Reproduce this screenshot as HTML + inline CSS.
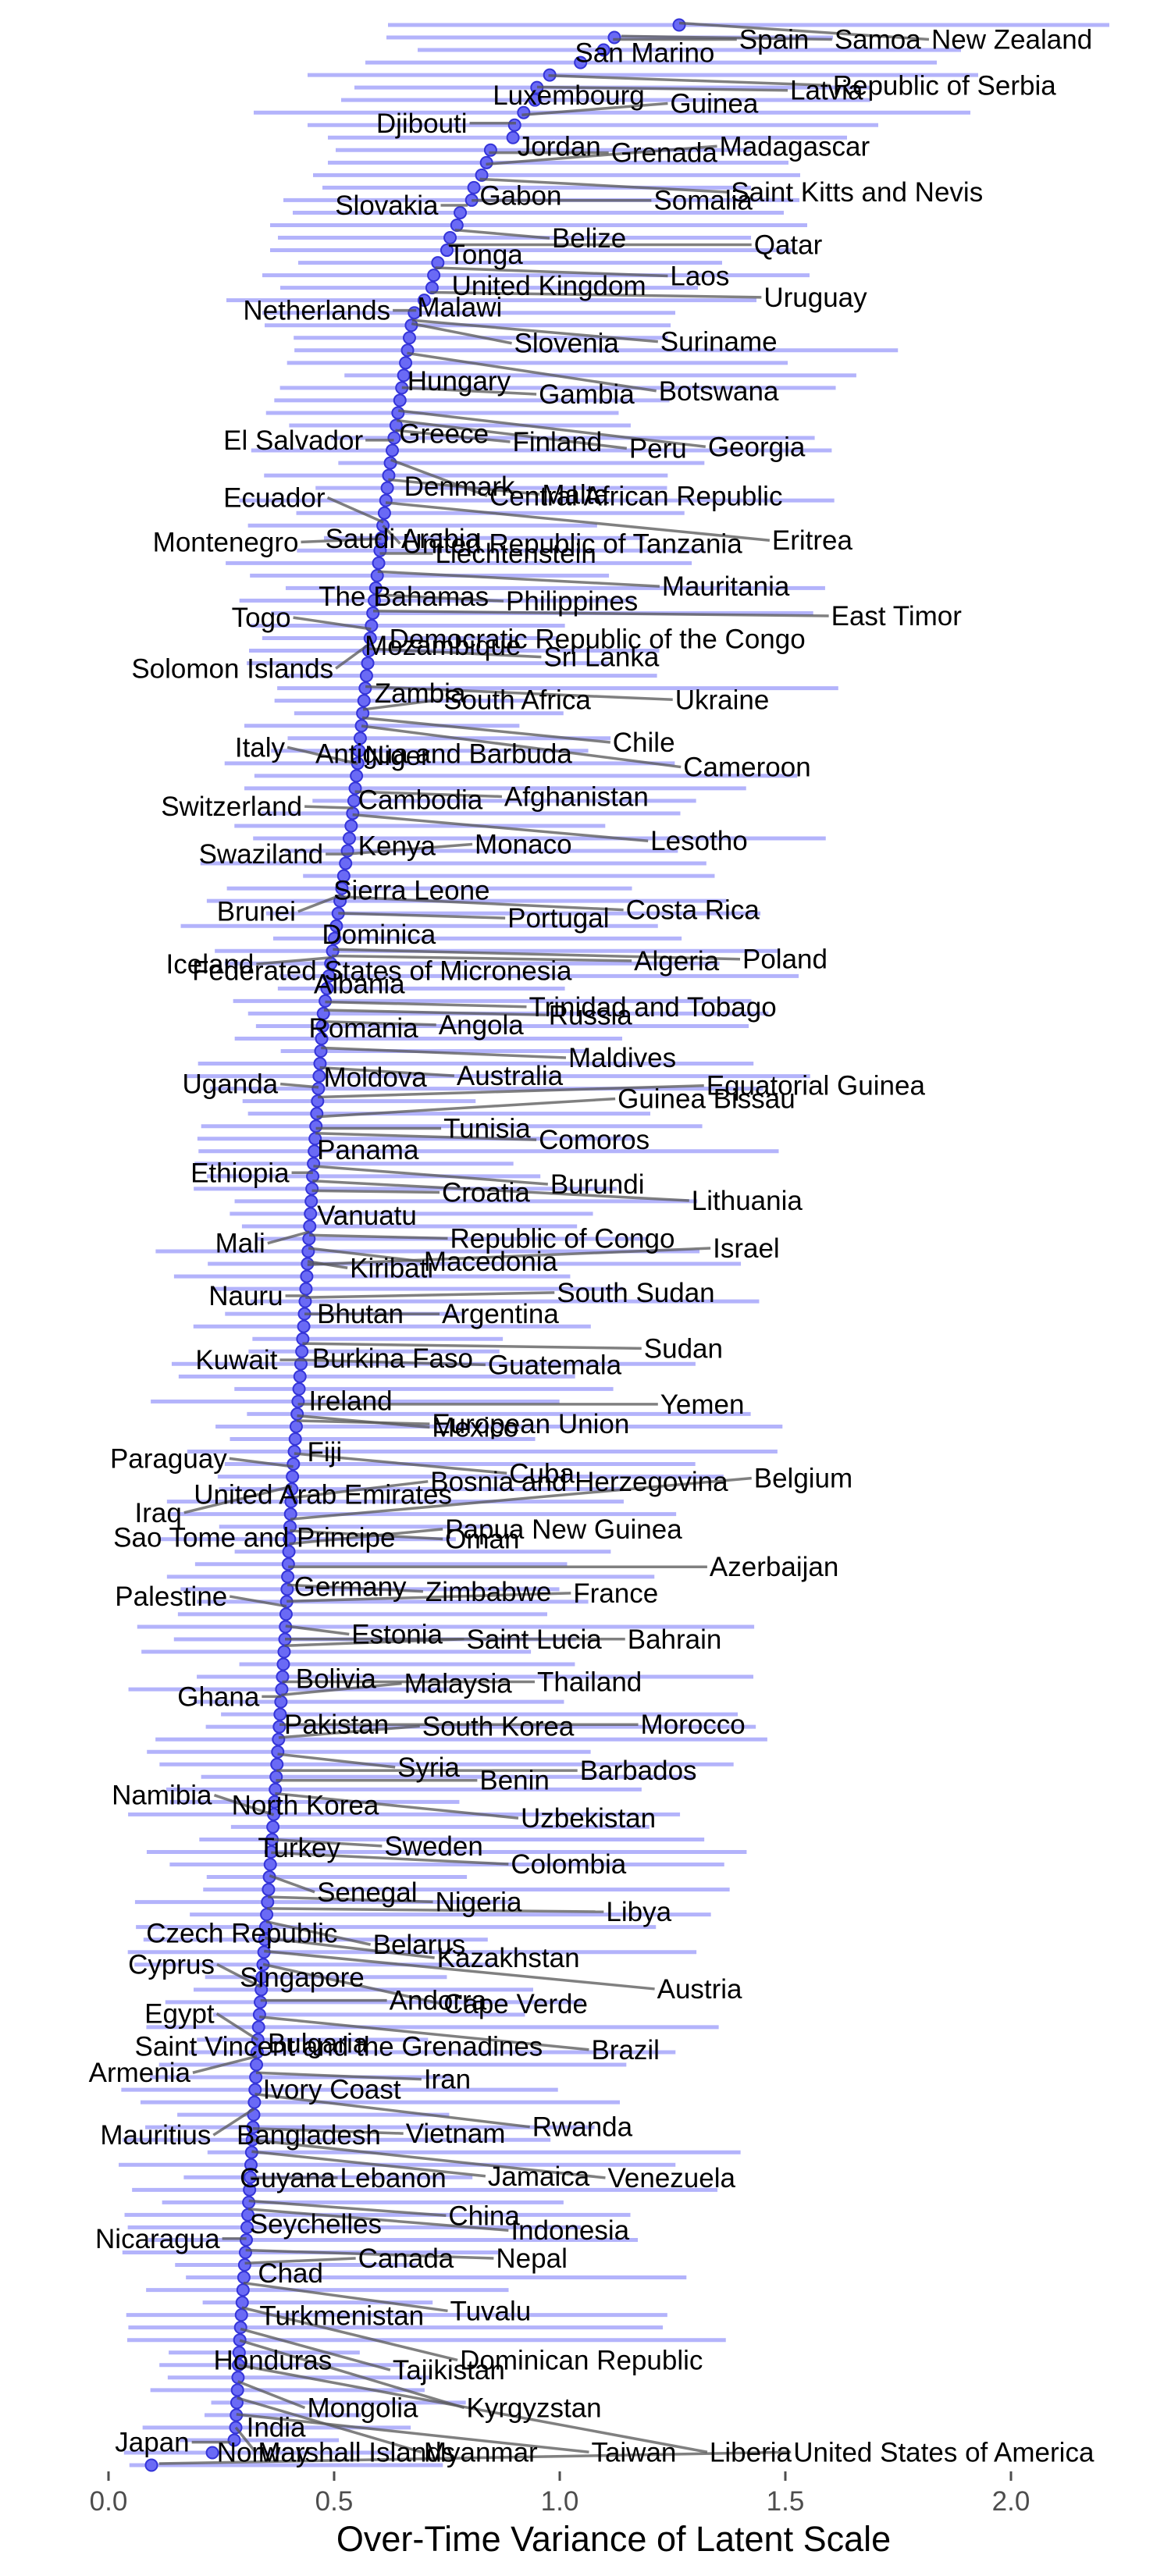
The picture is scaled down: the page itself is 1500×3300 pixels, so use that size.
<!DOCTYPE html>
<html><head><meta charset="utf-8"><style>
html,body{margin:0;padding:0;background:#fff;}
svg{display:block;}
text{font-family:"Liberation Sans",Arial,sans-serif;}
</style></head><body>
<svg id="s" width="1500" height="3300" viewBox="0 0 1500 3300" xmlns="http://www.w3.org/2000/svg">
<rect width="1500" height="3300" fill="#fff"/>
<g id="bars"></g><g id="dots"></g><g id="lead"></g>
<g id="labs" font-size="35" fill="#000">
<text x="0" y="0">Spain</text>
<text>Samoa</text><text>New Zealand</text><text>San Marino</text><text>Republic of Serbia</text><text>Latvia</text>
<text>Luxembourg</text><text>Guinea</text><text>Djibouti</text><text>Jordan</text><text>Grenada</text><text>Madagascar</text>
<text>Saint Kitts and Nevis</text><text>Gabon</text><text>Somalia</text><text>Slovakia</text><text>Belize</text><text>Qatar</text><text>Tonga</text>
<text>Laos</text><text>United Kingdom</text><text>Uruguay</text><text>Netherlands</text><text>Malawi</text><text>Suriname</text><text>Slovenia</text>
<text>Hungary</text><text>Gambia</text><text>Botswana</text><text>El Salvador</text><text>Greece</text><text>Finland</text><text>Peru</text><text>Georgia</text>
<text>Denmark</text><text>Central African Republic</text><text>Malta</text><text>Ecuador</text><text>Montenegro</text><text>Saudi Arabia</text>
<text>United Republic of Tanzania</text><text>Eritrea</text><text>Liechtenstein</text><text>Mauritania</text><text>The Bahamas</text><text>Philippines</text>
<text>Togo</text><text>East Timor</text><text>Democratic Republic of the Congo</text><text>Mozambique</text><text>Sri Lanka</text><text>Solomon Islands</text>
<text>Zambia</text><text>South Africa</text><text>Ukraine</text><text>Chile</text><text>Italy</text><text>Antigua and Barbuda</text><text>Niger</text><text>Cameroon</text>
<text>Afghanistan</text><text>Switzerland</text><text>Cambodia</text><text>Lesotho</text><text>Kenya</text><text>Monaco</text><text>Swaziland</text>
<text>Sierra Leone</text><text>Costa Rica</text><text>Brunei</text><text>Portugal</text><text>Dominica</text><text>Poland</text><text>Iceland</text><text>Algeria</text>
<text>Federated States of Micronesia</text><text>Albania</text><text>Trinidad and Tobago</text><text>Russia</text><text>Romania</text><text>Angola</text>
<text>Maldives</text><text>Uganda</text><text>Moldova</text><text>Australia</text><text>Equatorial Guinea</text><text>Guinea Bissau</text>
<text>Tunisia</text><text>Comoros</text><text>Panama</text><text>Ethiopia</text><text>Burundi</text><text>Croatia</text><text>Lithuania</text>
<text>Vanuatu</text><text>Republic of Congo</text><text>Mali</text><text>Israel</text><text>Macedonia</text><text>Kiribati</text>
<text>South Sudan</text><text>Nauru</text><text>Bhutan</text><text>Argentina</text><text>Sudan</text><text>Kuwait</text><text>Burkina Faso</text><text>Guatemala</text>
<text>Ireland</text><text>Yemen</text><text>European Union</text><text>Mexico</text><text>Fiji</text><text>Paraguay</text><text>Cuba</text><text>Belgium</text>
<text>Bosnia and Herzegovina</text><text>United Arab Emirates</text><text>Iraq</text><text>Papua New Guinea</text><text>Sao Tome and Principe</text><text>Oman</text>
<text>Azerbaijan</text><text>Germany</text><text>Zimbabwe</text><text>France</text><text>Palestine</text><text>Estonia</text><text>Saint Lucia</text><text>Bahrain</text>
<text>Bolivia</text><text>Malaysia</text><text>Thailand</text><text>Ghana</text><text>Pakistan</text><text>South Korea</text><text>Morocco</text>
<text>Syria</text><text>Barbados</text><text>Benin</text><text>Namibia</text><text>North Korea</text><text>Uzbekistan</text><text>Turkey</text><text>Sweden</text><text>Colombia</text>
<text>Senegal</text><text>Nigeria</text><text>Libya</text><text>Czech Republic</text><text>Belarus</text><text>Kazakhstan</text><text>Cyprus</text><text>Singapore</text><text>Austria</text>
<text>Andorra</text><text>Cape Verde</text><text>Egypt</text><text>Saint Vincent and the Grenadines</text><text>Bulgaria</text><text>Brazil</text>
<text>Armenia</text><text>Iran</text><text>Ivory Coast</text><text>Mauritius</text><text>Bangladesh</text><text>Vietnam</text><text>Rwanda</text>
<text>Guyana</text><text>Lebanon</text><text>Jamaica</text><text>Venezuela</text><text>China</text><text>Seychelles</text><text>Indonesia</text>
<text>Nicaragua</text><text>Canada</text><text>Nepal</text><text>Chad</text><text>Tuvalu</text><text>Turkmenistan</text>
<text>Dominican Republic</text><text>Honduras</text><text>Tajikistan</text><text>Mongolia</text><text>Kyrgyzstan</text><text>India</text><text>Japan</text>
<text>Norway</text><text>Marshall Islands</text><text>Myanmar</text><text>Taiwan</text><text>Liberia</text><text>United States of America</text>
</g>
<g stroke="#4d4d4d" stroke-width="3">
<line x1="139" y1="3166" x2="139" y2="3178"/><line x1="428" y1="3166" x2="428" y2="3178"/><line x1="717" y1="3166" x2="717" y2="3178"/><line x1="1006" y1="3166" x2="1006" y2="3178"/><line x1="1295" y1="3166" x2="1295" y2="3178"/>
</g>
<g font-size="35" fill="#4d4d4d" text-anchor="middle">
<text x="139" y="3216">0.0</text><text x="428" y="3216">0.5</text><text x="717" y="3216">1.0</text><text x="1006" y="3216">1.5</text><text x="1295" y="3216">2.0</text>
</g>
<text x="786" y="3268" font-size="45" text-anchor="middle" fill="#000">Over-Time Variance of Latent Scale</text>
</svg>
<script>
(function(){
var NS="http://www.w3.org/2000/svg";
var K=2.104;
var A=[[32,870],[48,787],[62,777],[81,742],[97,702],[111,688],[130,685],[145,670],[162,658],[178,657],[193,627],[209,623],[227,616],[242,606],[258,604],[275,587],[291,585],[307,575],[323,572],[340,558],[356,555],[372,553],[388,541],[403,529],[600,499],[800,476],[1050,451],[1300,414],[1500,401],[1700,389],[1900,374],[2100,365],[2350,349],[2600,331],[2800,320],[3000,307],[3110,302],[3126,300],[3142,272],[3158,194]];
function cx(y){if(y<=A[0][0])return A[0][1];for(var i=1;i<A.length;i++){if(y<=A[i][0]){var a=A[i-1],b=A[i];return a[1]+(b[1]-a[1])*(y-a[0])/(b[0]-a[0]);}}return A[A.length-1][1];}
var top=[[497,1421],[495,1067],[535,1231],[468,1200],[394,1253],[454,1115],[437,1115],[325,1243],[394,1125],[420,1085],[430,962],[420,1010],[401,1025],[413,962],[363,1024],[375,1004],[346,1034],[356,962],[346,1016],[382,925],[336,1037],[359,894],[290,969],[336,865],[339,859]];
var seed=12345;function rnd(){seed=(seed*1103515245+12345)%2147483648;return seed/2147483648;}
var N=196,bars=document.getElementById('bars'),dots=document.getElementById('dots');
var rows=[];
for(var i=0;i<N;i++){var y=32+i*(3158-32)/(N-1);var x=cx(y);rows.push([x,y]);
var l,r;if(i<top.length){l=top[i][0];r=top[i][1];}else{var f=i>185?0.6:1;l=x-(50+rnd()*150)*f;r=x+(200+rnd()*430)*f;if(l<150)l=150+rnd()*20;}
var ln=document.createElementNS(NS,'line');ln.setAttribute('x1',l);ln.setAttribute('x2',r);ln.setAttribute('y1',y);ln.setAttribute('y2',y);ln.setAttribute('stroke','#b3b3fb');ln.setAttribute('stroke-width','5');bars.appendChild(ln);}
rows.forEach(function(p){var c=document.createElementNS(NS,'circle');c.setAttribute('cx',p[0]);c.setAttribute('cy',p[1]);c.setAttribute('r','7.5');c.setAttribute('fill','#6a6af5');c.setAttribute('stroke','#3434d8');c.setAttribute('stroke-width','2');dots.appendChild(c);});
var L=[["Spain",450,24],["Samoa",508,24,22],["New Zealand",567,24,14],["San Marino",350,32],["Republic of Serbia",507,52,46],["Latvia",481,55,53],
["Luxembourg",300,58],["Guinea",408,63,70],["Djibouti",229,75],["Jordan",315,89],["Grenada",372,93],["Madagascar",438,89,100],
["Saint Kitts and Nevis",445,117,109],["Gabon",292,119],["Somalia",398,122],["Slovakia",204,125],["Belize",336,145,140],["Qatar",459,149],["Tonga",273,155],
["Laos",408,168,163],["United Kingdom",275,174],["Uruguay",465,181,178],["Netherlands",148,189],["Malawi",254,187],["Suriname",402,208,195],["Slovenia",313,209,197],
["Hungary",248,232],["Gambia",328,240,236],["Botswana",401,238,215],["El Salvador",136,268],["Greece",243,264],["Finland",312,269,262],["Peru",383,273,256],["Georgia",431,272,250],
["Denmark",246,296],["Central African Republic",298,302,280],["Malta",330,301,292],["Ecuador",136,303,318],["Montenegro",93,330,328],["Saudi Arabia",198,328],
["United Republic of Tanzania",245,331,320],["Eritrea",470,329,306],["Liechtenstein",265,337],["Mauritania",403,357,348],["The Bahamas",194,363],["Philippines",308,366,362],
["Togo",141,376,383],["East Timor",506,375,372],["Democratic Republic of the Congo",237,389],["Mozambique",222,393],["Sri Lanka",331,400,395],["Solomon Islands",80,407,392],
["Zambia",228,422],["South Africa",270,426,432],["Ukraine",411,426,418],["Chile",373,452,437],["Italy",143,455,465],["Antigua and Barbuda",192,459],["Niger",222,460],["Cameroon",416,467,442],
["Afghanistan",307,485,482],["Switzerland",98,491,492],["Cambodia",218,487],["Lesotho",396,512,496],["Kenya",218,515],["Monaco",289,514,520],["Swaziland",121,520],
["Sierra Leone",203,542],["Costa Rica",381,554,546],["Brunei",132,555,545],["Portugal",309,559,556],["Dominica",196,569],["Poland",452,584,578],["Iceland",101,587,583],["Algeria",386,585,582],
["Federated States of Micronesia",117,591],["Albania",191,599],["Trinidad and Tobago",322,613,610],["Russia",334,618,615],["Romania",188,626],["Angola",267,624,622],
["Maldives",346,644,638],["Uganda",111,660,662],["Moldova",197,656],["Australia",278,655,650],["Equatorial Guinea",430,661,668],["Guinea Bissau",376,669,680],
["Tunisia",270,687],["Comoros",328,694,690],["Panama",193,700],["Ethiopia",116,714],["Burundi",335,721,710],["Croatia",269,726,725],["Lithuania",421,731,719],
["Vanuatu",193,740],["Republic of Congo",274,754,752],["Mali",131,757,750],["Israel",434,760,770],["Macedonia",258,768,760],["Kiribati",213,772,768],
["South Sudan",339,787,790],["Nauru",127,789],["Bhutan",193,800],["Argentina",269,800,800],["Sudan",392,821,818],["Kuwait",119,828],["Burkina Faso",190,827],["Guatemala",297,831,828],
["Ireland",188,853],["Yemen",402,855,855],["European Union",263,867,865],["Mexico",263,869,862],["Fiji",187,884],["Paraguay",67,888,893],["Cuba",310,897,885],["Belgium",459,900,925],
["Bosnia and Herzegovina",262,902,912],["United Arab Emirates",118,910],["Iraq",82,921,905],["Papua New Guinea",271,931,940],["Sao Tome and Principe",69,936],["Oman",271,937,932],
["Azerbaijan",432,954,954],["Germany",179,966],["Zimbabwe",259,969,965],["France",349,970,975],["Palestine",70,972,978],["Estonia",214,995,990],["Saint Lucia",284,998,1002],["Bahrain",382,998,998],
["Bolivia",180,1022],["Malaysia",246,1025,1032],["Thailand",327,1024,1024],["Ghana",108,1033],["Pakistan",173,1050],["South Korea",257,1051,1058],["Morocco",390,1050,1050],
["Syria",242,1076,1068],["Barbados",353,1078,1078],["Benin",292,1084,1084],["Namibia",68,1093,1105],["North Korea",141,1099],["Uzbekistan",317,1107,1092],["Turkey",157,1125],["Sweden",234,1124,1120],["Colombia",311,1135,1128],
["Senegal",193,1152,1142],["Nigeria",265,1158,1155],["Libya",369,1164,1162],["Czech Republic",89,1177],["Belarus",227,1184,1170],["Kazakhstan",266,1192,1180],["Cyprus",78,1196,1210],["Singapore",146,1204],["Austria",400,1211,1188],
["Andorra",237,1218,1218],["Cape Verde",270,1220,1196],["Egypt",88,1226,1242],["Saint Vincent and the Grenadines",82,1246],["Bulgaria",163,1244],["Brazil",360,1248,1228],
["Armenia",54,1262,1252],["Iran",258,1266,1262],["Ivory Coast",160,1272],["Mauritius",61,1300,1284],["Bangladesh",144,1300],["Vietnam",247,1299,1296],["Rwanda",324,1295,1275],
["Guyana",146,1326],["Lebanon",207,1326],["Jamaica",297,1325,1310],["Venezuela",370,1326,1303],["China",273,1349,1340],["Seychelles",152,1354],["Indonesia",311,1358,1345],
["Nicaragua",58,1363],["Canada",218,1375,1378],["Nepal",302,1375,1370],["Chad",157,1384],["Tuvalu",274,1407,1390],["Turkmenistan",158,1410],
["Dominican Republic",280,1437,1405],["Honduras",130,1437],["Tajikistan",239,1443,1418],["Mongolia",187,1466,1450],["Kyrgyzstan",284,1466,1425],["India",150,1478],["Japan",70,1487],
["Norway",132,1493],["Marshall Islands",157,1493,1478],["Myanmar",258,1493,1460],["Taiwan",360,1493,1470],["Liberia",432,1493,1440],["United States of America",483,1493,1500]];
var texts=document.getElementById('labs').getElementsByTagName('text');
var lead=document.getElementById('lead');
for(var j=0;j<L.length&&j<texts.length;j++){var d=L[j],t=texts[j];var x=d[1]*K,y=d[2]*K;
t.setAttribute('x',x);t.setAttribute('y',y+12);
var w=t.getComputedTextLength();
var dy=(d.length>3?d[3]:d[2])*K;var dx=cx(dy);
var ex=null;if(x>dx+4)ex=x-3;else if(x+w<dx-4)ex=x+w+3;
if(ex!==null&&Math.hypot(ex-dx,y-dy)>22){var ln=document.createElementNS(NS,'line');ln.setAttribute('x1',dx);ln.setAttribute('y1',dy);ln.setAttribute('x2',ex);ln.setAttribute('y2',y);ln.setAttribute('stroke','#555');ln.setAttribute('stroke-opacity','0.75');ln.setAttribute('stroke-width','3.5');lead.appendChild(ln);}}
})();
</script>
</body></html>
